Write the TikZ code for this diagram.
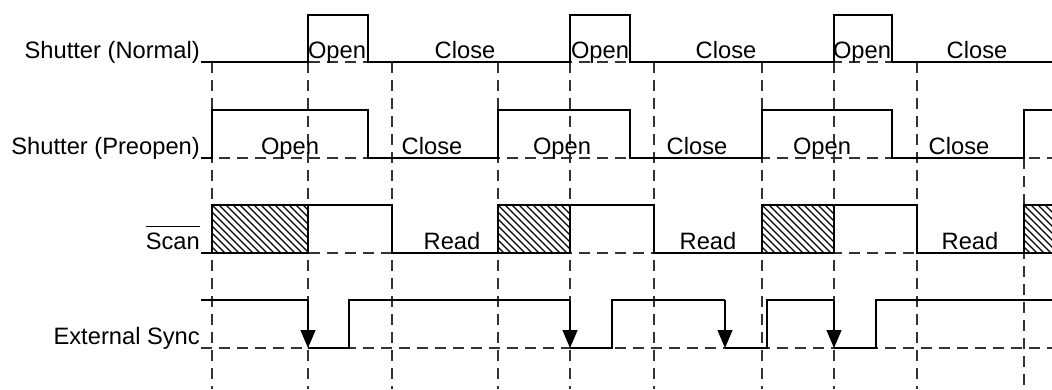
\documentclass[tikz,border=0pt]{standalone}
\usepackage{fontspec}
\setmainfont{Liberation Sans}
\usetikzlibrary{arrows.meta}

\tikzset{
  wave/.style={line width=1.2pt},
  grid/.style={line width=1.1pt, black!80, dash pattern=on 11pt off 7pt},
  hatch/.style={line width=1.4pt},
  lbl/.style={inner sep=0pt, anchor=base east},
  txt/.style={inner sep=0pt, anchor=base},
  sync/.style={wave, -{Triangle[width=15pt, length=18pt]}}
}

% hatched box of the Scan line, from x=#1 to x=#2
\newcommand{\hatchbox}[2]{%
  \begin{scope}
    \clip (#1,205) rectangle (#2,253);
    \foreach \h in {-49,-42,...,100}
      \draw[hatch] ({#1+\h},205) -- ({#1+\h+48},253);
  \end{scope}
}

\begin{document}
\begin{tikzpicture}[x=1pt, y=-1pt, font=\fontsize{23.7}{28}\selectfont]
\useasboundingbox (0,0) rectangle (1052,389);

% labels
\node[lbl] (normal) at (200,58) {Shutter (Normal)};
\node[lbl] (preopen) at (200,154) {Shutter (Preopen)};
\node[lbl] (scan) at (200,249) {Scan};
\node[lbl] (sync) at (200,344) {External Sync};
\draw[line width=1.2pt] ([yshift=6pt]scan.north west) -- ([yshift=6pt]scan.north east);

% dashed guides
\draw[grid] (201,62) -- (1052,62);
\draw[grid] (201,158) -- (1052,158);
\draw[grid] (201,253) -- (1052,253);
\draw[grid] (201,348) -- (1052,348);
\foreach \x in {212,308,392,498,570,654,762,834,917}
  \draw[grid] (\x,62) -- (\x,389);
\draw[grid] (1024,158) -- (1024,389);

% Shutter (Normal)
\draw[wave] (201,62) -- (308,62) -- (308,15) -- (368,15) -- (368,62) -- (570,62)
  -- (570,15) -- (630,15) -- (630,62) -- (834,62) -- (834,15) -- (892,15) -- (892,62) -- (1052,62);
\node[txt] (no1) at (337,58) {Open};
\node[txt] (nc1) at (465,58) {Close};
\node[txt] (no2) at (600,58) {Open};
\node[txt] (nc2) at (726,58) {Close};
\node[txt] (no3) at (862,58) {Open};
\node[txt] (nc3) at (977,58) {Close};

% Shutter (Preopen)
\draw[wave] (201,158) -- (212,158) -- (212,110) -- (368,110) -- (368,158) -- (498,158)
  -- (498,110) -- (630,110) -- (630,158) -- (762,158) -- (762,110) -- (892,110) -- (892,158)
  -- (1024,158) -- (1024,110) -- (1052,110);
\node[txt] (po1) at (290,154) {Open};
\node[txt] (pc1) at (432,154) {Close};
\node[txt] (po2) at (562,154) {Open};
\node[txt] (pc2) at (697,154) {Close};
\node[txt] (po3) at (822,154) {Open};
\node[txt] (pc3) at (959,154) {Close};

% Scan
\hatchbox{212}{308}
\hatchbox{498}{570}
\hatchbox{762}{834}
\hatchbox{1024}{1052}
\draw[wave] (201,253) -- (212,253);
\draw[wave] (212,205) rectangle (308,253);
\draw[wave] (308,205) -- (392,205) -- (392,253) -- (498,253);
\draw[wave] (498,205) rectangle (570,253);
\draw[wave] (570,205) -- (654,205) -- (654,253) -- (762,253);
\draw[wave] (762,205) rectangle (834,253);
\draw[wave] (834,205) -- (917,205) -- (917,253) -- (1024,253);
\draw[wave] (1052,205) -- (1024,205) -- (1024,253) -- (1052,253);
\node[txt] (rd1) at (452,249) {Read};
\node[txt] (rd2) at (708,249) {Read};
\node[txt] (rd3) at (970,249) {Read};

% External Sync
\draw[wave] (201,300) -- (308,300);
\draw[sync] (308,300) -- (308,348);
\draw[wave] (308,348) -- (349,348) -- (349,300) -- (570,300);
\draw[sync] (570,300) -- (570,348);
\draw[wave] (570,348) -- (612,348) -- (612,300) -- (725,300);
\draw[sync] (725,300) -- (725,348);
\draw[wave] (725,348) -- (767,348) -- (767,300) -- (834,300);
\draw[sync] (834,300) -- (834,348);
\draw[wave] (834,348) -- (876,348) -- (876,300) -- (1052,300);
\end{tikzpicture}
\end{document}
